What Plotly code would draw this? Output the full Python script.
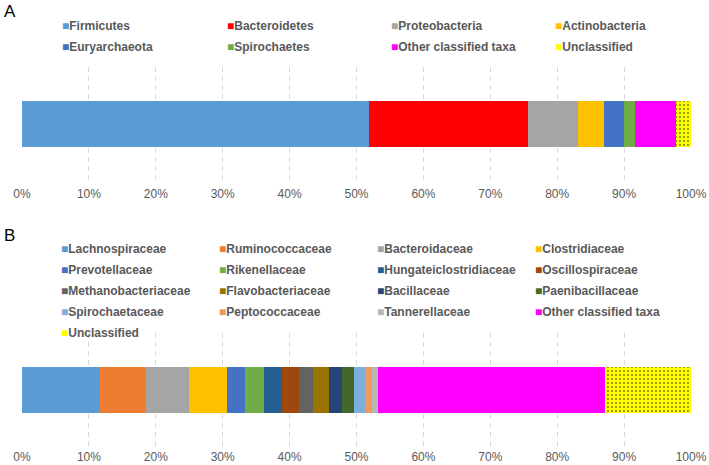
import plotly.graph_objects as go

# ---------------- data ----------------
phyla = ["Firmicutes", "Bacteroidetes", "Proteobacteria", "Actinobacteria",
         "Euryarchaeota", "Spirochaetes", "Other classified taxa", "Unclassified"]
phyla_pct = [51.8, 23.9, 7.4, 3.9, 3.0, 1.6, 6.2, 2.2]
phyla_colors = ["#5B9BD5", "#FF0000", "#A5A5A5", "#FFC000",
                "#4472C4", "#70AD47", "#FF00FF", "#FFFF00"]

families = ["Lachnospiraceae", "Ruminococcaceae", "Bacteroidaceae", "Clostridiaceae",
            "Prevotellaceae", "Rikenellaceae", "Hungateiclostridiaceae", "Oscillospiraceae",
            "Methanobacteriaceae", "Flavobacteriaceae", "Bacillaceae", "Paenibacillaceae",
            "Spirochaetaceae", "Peptococcaceae", "Tannerellaceae", "Other classified taxa",
            "Unclassified"]
family_pct = [11.7, 6.9, 6.4, 5.6, 2.8, 2.8, 2.6, 2.6, 2.1, 2.4, 1.9, 1.9,
              1.5, 1.1, 0.9, 34.0, 12.8]
family_colors = ["#5B9BD5", "#ED7D31", "#A5A5A5", "#FFC000",
                 "#4472C4", "#70AD47", "#255E91", "#9E480E",
                 "#636363", "#997300", "#264478", "#43682B",
                 "#7CAFDD", "#F1975A", "#B7B7B7", "#FF00FF",
                 "#FFFF00"]

tick_vals = [0, 10, 20, 30, 40, 50, 60, 70, 80, 90, 100]
tick_text = [f"{v}%" for v in tick_vals]

W, H = 709, 465
FONT = "Liberation Sans, Arial, sans-serif"
GREY = "#595959"

fig = go.Figure()


def add_panel(names, vals, colors, xa, ya, legend_ids):
    for n, v, c in zip(names, vals, colors):
        if n == "Unclassified":
            marker = dict(color=c, line=dict(width=0),
                          pattern=dict(shape=".", fgcolor="black", bgcolor="#FFFF00",
                                       size=4, solidity=0.1, fillmode="replace"))
        else:
            marker = dict(color=c, line=dict(width=0))
        fig.add_trace(go.Bar(x=[v], y=["s"], orientation="h", marker=marker,
                             name=n, showlegend=False, xaxis=xa, yaxis=ya,
                             hovertemplate=n + ": %{x}%<extra></extra>"))
    # legend entries (column-wise legends, 4 columns); small coloured square key
    for i, (n, c) in enumerate(zip(names, colors)):
        label = (f'<span style="font-size:12px"><span style="color:{c}">■</span>'
                 f'{n}</span>')
        fig.add_trace(go.Scatter(x=[None], y=[None], mode="markers",
                                 marker=dict(symbol="square", size=1,
                                             color="rgba(0,0,0,0)",
                                             line=dict(width=0, color="rgba(0,0,0,0)")),
                                 name=label,
                                 legend=legend_ids[i % 4], xaxis=xa, yaxis=ya,
                                 showlegend=True, hoverinfo="skip"))


legA = ["legend", "legend2", "legend3", "legend4"]
legB = ["legend5", "legend6", "legend7", "legend8"]
add_panel(phyla, phyla_pct, phyla_colors, "x", "y", legA)
add_panel(families, family_pct, family_colors, "x2", "y2", legB)

ML, MR = 22, 18


def ydom(top, bottom):
    return [1 - bottom / H, 1 - top / H]


axis_x = dict(range=[0, 100], tickvals=tick_vals, ticktext=tick_text,
              showgrid=True, gridcolor="#D9D9D9", gridwidth=1, griddash="5px,4px",
              zeroline=False, showline=False, ticks="",
              tickfont=dict(family=FONT, size=12, color=GREY),
              fixedrange=True)
axis_y = dict(showticklabels=False, showgrid=False, zeroline=False,
              showline=False, ticks="", fixedrange=True)

layout = dict(
    width=W, height=H,
    margin=dict(l=ML, r=MR, t=0, b=0, autoexpand=False),
    paper_bgcolor="white", plot_bgcolor="white",
    barmode="stack", bargap=0.6,
    xaxis=dict(axis_x, anchor="y", ticklabelstandoff=4),
    yaxis=dict(axis_y, domain=ydom(67, 181), anchor="x"),
    xaxis2=dict(axis_x, anchor="y2", ticklabelstandoff=1),
    yaxis2=dict(axis_y, domain=ydom(333, 447), anchor="x2"),
    font=dict(family=FONT, color=GREY),
    annotations=[
        dict(text="A", x=(2 - ML) / (W - ML - MR), y=1 - 11 / H, xref="paper", yref="paper",
             xanchor="left", yanchor="middle", showarrow=False,
             font=dict(family=FONT, size=17, color="black")),
        dict(text="B", x=(2 - ML) / (W - ML - MR), y=1 - 235 / H, xref="paper", yref="paper",
             xanchor="left", yanchor="middle", showarrow=False,
             font=dict(family=FONT, size=17, color="black")),
    ],
)

keyA = [62, 227, 391, 555]
keyB = [61, 219, 377, 535]
for ids, xs, top in ((legA, keyA, 25), (legB, keyB, 248)):
    for lid, kx in zip(ids, xs):
        layout[lid] = dict(x=(kx - 40) / W, xref="container", xanchor="left",
                           y=1 - (top - 16.5) / H, yref="container", yanchor="top",
                           orientation="v", traceorder="normal",
                           bgcolor="rgba(0,0,0,0)", borderwidth=0,
                           font=dict(family=FONT, size=14, color=GREY, weight="bold"),
                           itemclick=False, itemdoubleclick=False)

fig.update_layout(**layout)
fig.write_html("out.html", config={"displayModeBar": False, "staticPlot": True},
               post_script="document.body.style.margin='0px';document.body.style.overflow='hidden';")
